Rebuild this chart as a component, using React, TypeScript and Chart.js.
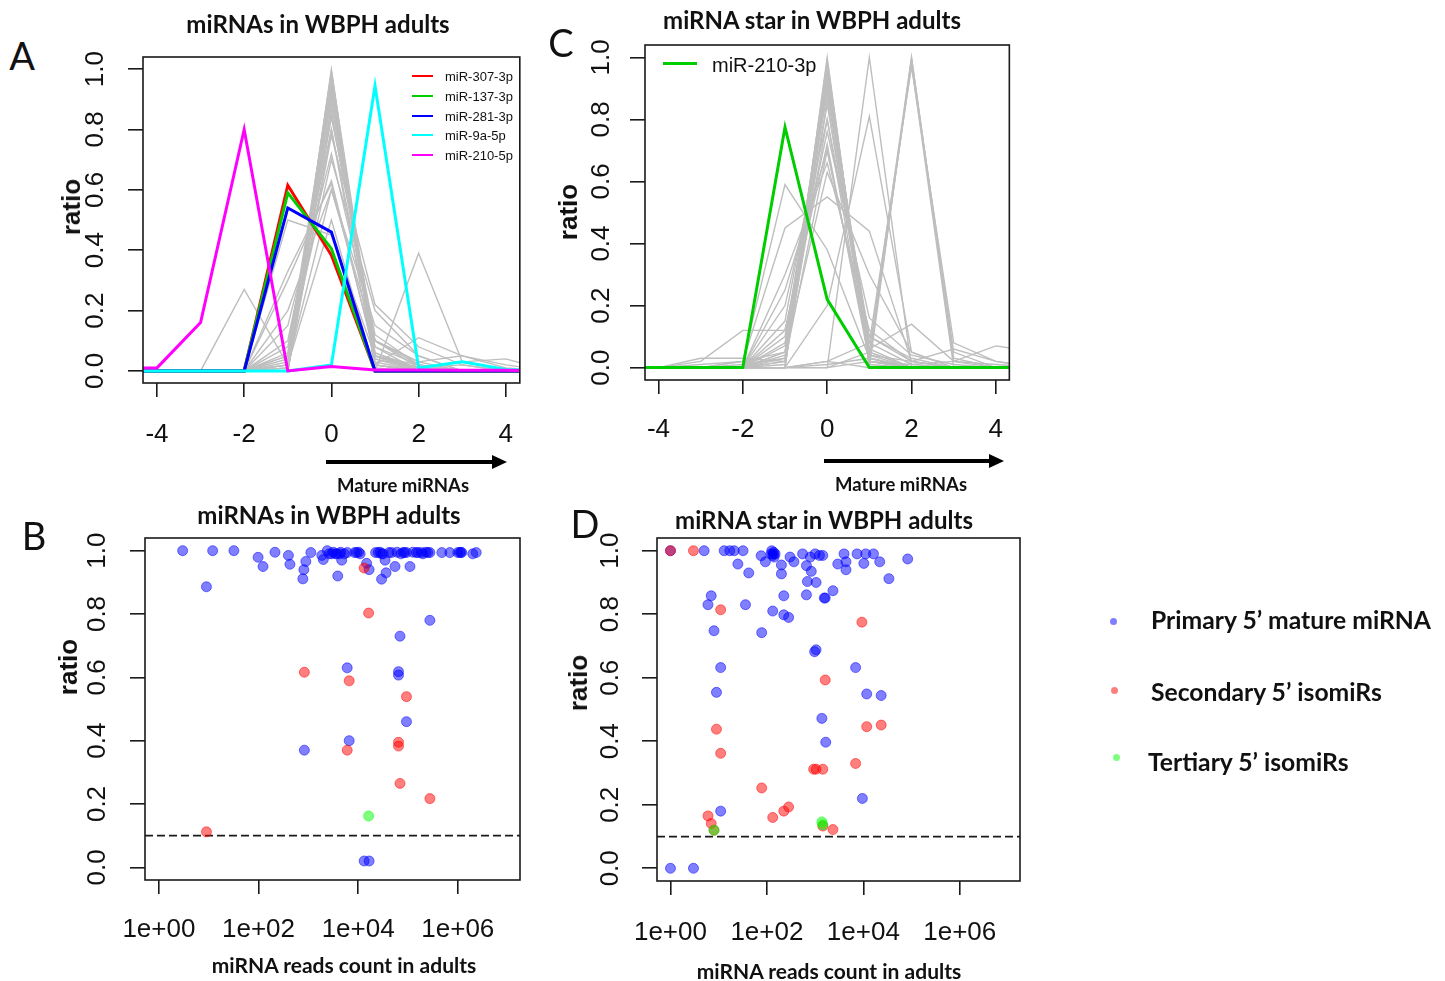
import React, { useEffect, useRef } from 'react';
import Chart from 'chart.js/auto';

// ---------------- data ----------------
const positionX = [-5, -4, -3, -2, -1, 0, 1, 2, 3, 4, 5];
const positionTicks = [-4, -2, 0, 2, 4];
const positionTickLabels = ['-4', '-2', '0', '2', '4'];
const ratioTicks = [0, 0.2, 0.4, 0.6, 0.8, 1.0];
const ratioTickLabels = ['0.0', '0.2', '0.4', '0.6', '0.8', '1.0'];
const readsTicks = [1, 100, 10000, 1000000];
const readsTickLabels = ['1e+00', '1e+02', '1e+04', '1e+06'];
const cutoffRatio = 0.1;

// Panel A highlighted miRNAs (ratio at positions -5..5)
const aNames = ['miR-307-3p', 'miR-137-3p', 'miR-281-3p', 'miR-9a-5p', 'miR-210-5p'];
const aColors = ['#FF0000', '#00CD00', '#0000FF', '#00FFFF', '#FF00FF'];
const miR307_3p = [0, 0, 0, 0, 0.615, 0.383, 0, 0, 0, 0, 0];
const miR137_3p = [0, 0, 0, 0, 0.59, 0.405, 0, 0, 0, 0, 0];
const miR281_3p = [0, 0, 0, 0, 0.54, 0.46, 0, 0, 0, 0, 0];
const miR9a_5p = [0, 0, 0, 0, 0, 0.02, 0.945, 0.01, 0.03, 0.005, 0];
const miR210_5p = [0.01, 0.01, 0.16, 0.8, 0, 0.015, 0.003, 0.003, 0.002, 0.002, 0];

// Panel A other miRNAs (grey)
const aOthers = [
  [0, 0, 0, 0, 0, 1.0, 0, 0, 0, 0, 0],
  [0, 0, 0, 0, 0.01, 0.99, 0, 0, 0, 0, 0],
  [0, 0, 0, 0, 0, 0.98, 0.02, 0, 0, 0, 0],
  [0, 0, 0, 0, 0.02, 0.97, 0.01, 0, 0, 0, 0],
  [0, 0, 0, 0, 0, 0.96, 0.04, 0, 0, 0, 0],
  [0, 0, 0, 0, 0.03, 0.95, 0.02, 0, 0, 0, 0],
  [0, 0, 0, 0, 0, 0.94, 0.05, 0.01, 0, 0, 0],
  [0, 0, 0, 0, 0.05, 0.93, 0.02, 0, 0, 0, 0],
  [0, 0, 0, 0, 0, 0.92, 0.08, 0, 0, 0, 0],
  [0, 0, 0, 0, 0.04, 0.9, 0.05, 0.01, 0, 0, 0],
  [0, 0, 0, 0, 0, 0.88, 0.1, 0.02, 0, 0, 0],
  [0, 0, 0, 0, 0.08, 0.86, 0.06, 0, 0, 0, 0],
  [0, 0, 0, 0, 0.02, 0.84, 0.12, 0.02, 0, 0, 0],
  [0, 0, 0, 0, 0.1, 0.8, 0.08, 0.02, 0, 0, 0],
  [0, 0, 0, 0, 0, 0.78, 0.22, 0.08, 0.02, 0, 0],
  [0, 0, 0, 0, 0.15, 0.72, 0.1, 0.03, 0, 0, 0],
  [0, 0, 0, 0, 0.05, 0.7, 0.2, 0.05, 0, 0, 0],
  [0, 0, 0, 0, 0.3, 0.63, 0.05, 0.02, 0, 0, 0],
  [0, 0, 0, 0, 0.33, 0.62, 0.05, 0, 0, 0, 0],
  [0, 0, 0, 0, 0.2, 0.6, 0.15, 0.05, 0, 0, 0],
  [0, 0, 0, 0, 0.5, 0.45, 0.05, 0, 0, 0, 0],
  [0, 0, 0, 0.27, 0.02, 0.6, 0.1, 0.01, 0, 0, 0],
  [0, 0, 0, 0, 0.02, 0.5, 0, 0.39, 0.03, 0.04, 0],
  [0, 0, 0, 0, 0, 0.8, 0.02, 0.11, 0.05, 0.02, 0],
  [0, 0, 0, 0, 0, 0.85, 0.1, 0.03, 0.05, 0.01, 0],
  [0, 0, 0, 0, 0.01, 0.93, 0.04, 0.01, 0.02, 0, 0],
  [0, 0, 0, 0, 0.06, 0.97, 0.03, 0, 0, 0, 0],
  [0, 0, 0, 0, 0, 0.99, 0.06, 0.01, 0, 0, 0],
];

// Panel C highlighted miRNA star
const cName = 'miR-210-3p';
const cColor = '#00CD00';
const miR210_3p = [0, 0, 0, 0, 0.775, 0.22, 0, 0, 0, 0, 0];

// Panel C other miRNA stars (grey)
const cOthers = [
  [0, 0, 0, 0, 0, 1.0, 0, 0, 0, 0, 0],
  [0, 0, 0, 0, 0.02, 0.99, 0.01, 0, 0, 0, 0],
  [0, 0, 0, 0, 0, 0.98, 0.03, 0, 0, 0, 0],
  [0, 0, 0, 0, 0.05, 0.97, 0, 0, 0, 0, 0],
  [0, 0, 0, 0.01, 0.03, 0.96, 0.02, 0, 0, 0, 0],
  [0, 0, 0, 0, 0.08, 0.94, 0.05, 0, 0, 0, 0],
  [0, 0, 0, 0, 0, 0.93, 0.08, 0.01, 0, 0, 0],
  [0, 0, 0, 0, 0.1, 0.9, 0.02, 0, 0, 0, 0],
  [0, 0, 0, 0, 0.15, 0.88, 0.1, 0.02, 0, 0, 0],
  [0, 0, 0, 0, 0.04, 0.86, 0.04, 0, 0, 0, 0],
  [0, 0, 0, 0, 0.2, 0.8, 0.1, 0.03, 0, 0, 0],
  [0, 0, 0, 0, 0.12, 0.76, 0.16, 0.04, 0.01, 0, 0],
  [0, 0, 0, 0, 0.25, 0.7, 0.05, 0, 0, 0, 0],
  [0, 0, 0, 0, 0.3, 0.66, 0.12, 0.02, 0, 0, 0],
  [0, 0, 0, 0, 0.05, 0.63, 0.3, 0.05, 0, 0, 0],
  [0, 0, 0, 0.02, 0.45, 0.55, 0.44, 0.02, 0, 0, 0],
  [0, 0, 0, 0.02, 0.59, 0.38, 0.03, 0, 0, 0, 0],
  [0, 0, 0.02, 0.12, 0.12, 0.72, 0.02, 0, 0, 0, 0],
  [0, 0, 0.03, 0.03, 0.02, 0.9, 0.03, 0, 0, 0, 0],
  [0, 0, 0, 0, 0, 0, 1.0, 0, 0, 0, 0],
  [0, 0, 0, 0, 0, 0.2, 0.81, 0.05, 0, 0, 0],
  [0, 0, 0, 0, 0, 0.02, 0, 1.0, 0.02, 0, 0],
  [0, 0, 0, 0, 0, 0, 0.02, 0.99, 0.05, 0, 0],
  [0, 0, 0, 0, 0, 0.01, 0.03, 0.98, 0, 0, 0],
  [0, 0, 0, 0, 0, 0, 0.05, 1.0, 0.03, 0, 0],
  [0, 0, 0, 0, 0, 0.02, 0.08, 0.97, 0.08, 0.02, 0],
  [0, 0, 0, 0, 0.02, 0.7, 0.06, 0.14, 0.02, 0.01, 0],
  [0, 0, 0, 0, 0.01, 0.85, 0.04, 0.02, 0.06, 0.02, 0],
  [0, 0, 0, 0, 0.03, 0.8, 0.02, 0.01, 0.02, 0.07, 0.05],
  [0, 0, 0.01, 0.02, 0.05, 0.92, 0.02, 0, 0, 0, 0],
  [0, 0, 0, 0, 0.07, 0.96, 0.06, 0, 0, 0, 0],
];

// Panel B: [reads count, ratio]
const bPrimary = [
  [3, 1.0], [12, 1.0], [32, 1.0], [9, 0.886], [98, 0.979], [123, 0.95], [214, 0.995], [398, 0.985],
  [427, 0.957], [776, 0.911], [813, 0.94], [891, 0.966], [1122, 0.994], [832, 0.37], [1862, 0.985],
  [1995, 0.972], [2399, 1.0], [2951, 0.99], [3715, 0.99], [4266, 0.99], [4677, 0.97], [3890, 0.92],
  [6026, 0.994], [6026, 0.63], [6607, 0.4], [9333, 0.994], [10965, 0.99], [14791, 0.96], [16596, 0.94],
  [13183, 0.02], [16596, 0.02], [25119, 0.994], [29512, 0.99], [34674, 0.97], [36308, 0.93], [29512, 0.91],
  [46774, 0.994], [54954, 0.95], [69183, 0.73], [64565, 0.618], [64565, 0.607], [79433, 0.994],
  [93325, 0.994], [93325, 0.46], [109648, 0.95], [147911, 0.994], [186209, 0.994], [275423, 0.994],
  [275423, 0.78], [478630, 0.994], [691831, 0.994], [1096478, 0.994], [1202264, 0.994], [1995262, 0.99],
  [2344229, 0.994], [2630, 0.99], [3162, 0.995], [3548, 0.99], [4467, 0.995], [5248, 0.99], [8511, 0.994],
  [10233, 0.995], [22387, 0.994], [27542, 0.995], [31623, 0.99], [41687, 0.994], [60256, 0.995],
  [72444, 0.99], [85114, 0.994], [125893, 0.995], [158489, 0.994], [199526, 0.99], [229087, 0.995],
  [251189, 0.994], [1000000, 0.994], [1148154, 0.995],
];
const bSecondary = [
  [9, 0.112], [832, 0.616], [6607, 0.589], [6026, 0.37], [13183, 0.945], [16218, 0.803],
  [64565, 0.395], [64565, 0.383], [93325, 0.539], [69183, 0.265], [275423, 0.217],
];
const bTertiary = [[16218, 0.162]];

// Panel D: [reads count, ratio]
const dPrimary = [
  [1, 0.0], [3, 0.0], [1, 1.0], [5, 1.0], [13, 1.0], [17, 1.0], [21, 1.0], [32, 1.0], [7, 0.858], [6, 0.83],
  [8, 0.748], [11, 0.632], [9, 0.554], [11, 0.18], [25, 0.958], [42, 0.93], [36, 0.83], [78, 0.742],
  [76, 0.984], [93, 0.965], [123, 0.99], [126, 1.0], [132, 0.985], [138, 0.995], [141, 0.98], [135, 0.99],
  [148, 0.99], [200, 0.955], [200, 0.927], [224, 0.858], [132, 0.81], [224, 0.798], [282, 0.79],
  [302, 0.98], [363, 0.965], [550, 0.99], [661, 0.953], [661, 0.861], [692, 0.903], [794, 0.98],
  [832, 0.935], [1047, 0.9], [1000, 0.99], [1230, 0.985], [1445, 0.985], [977, 0.682], [1047, 0.688],
  [1622, 0.851], [1549, 0.851], [2344, 0.874], [1380, 0.472], [1660, 0.397], [2951, 0.958], [3981, 0.99],
  [4365, 0.965], [4365, 0.94], [7413, 0.99], [10233, 0.96], [11220, 0.99], [16218, 0.99], [21878, 0.965],
  [33884, 0.912], [83176, 0.974], [6918, 0.632], [11749, 0.549], [23442, 0.544], [9550, 0.22],
];
const dSecondary = [
  [1, 1.0], [3, 1.0], [11, 0.814], [9, 0.438], [11, 0.362], [6, 0.165], [7, 0.141], [8, 0.12],
  [78, 0.253], [132, 0.16], [224, 0.18], [282, 0.193], [1622, 0.593], [933, 0.312], [1047, 0.312],
  [1445, 0.312], [1445, 0.133], [2344, 0.122], [9333, 0.775], [6918, 0.33], [11749, 0.446], [23442, 0.451],
];
const dTertiary = [[8, 0.12], [1380, 0.146], [1445, 0.137]];

const legendNames = ['Primary 5\u2019 mature miRNA', 'Secondary 5\u2019 isomiRs', 'Tertiary 5\u2019 isomiRs'];
const legendColors = ['rgba(0,0,255,0.5)', 'rgba(255,0,0,0.5)', 'rgba(0,255,0,0.5)'];

// ---------------- layout / style ----------------
const INK = '#111111';
const TICK_FONT = '"Liberation Sans", Arial, sans-serif';
const LABEL_FONT = 'Lato, "Open Sans", sans-serif';
const M = { l: 100, t: 45, r: 14, b: 80 };
const BOX_A = { l: 143, t: 57, r: 522, b: 383 };
const BOX_C = { l: 645, t: 45, r: 1010, b: 380 };
const BOX_B = { l: 145, t: 538, r: 520, b: 880 };
const BOX_D = { l: 657, t: 538, r: 1020, b: 881 };
const READS_MIN = 0.526;
const READS_MAX = 17740000;

const framePlugin = {
  id: 'frame',
  afterDraw(chart: any) {
    const { ctx, chartArea } = chart;
    ctx.save();
    ctx.strokeStyle = '#1a1a1a';
    ctx.lineWidth = 1.6;
    ctx.strokeRect(chartArea.left, chartArea.top, chartArea.right - chartArea.left, chartArea.bottom - chartArea.top);
    ctx.restore();
  },
};

function gridOpts(len: number) {
  return {
    display: true,
    drawOnChartArea: false,
    drawTicks: true,
    tickLength: len,
    tickWidth: 1.6,
    tickColor: '#1a1a1a',
    color: '#1a1a1a',
    lineWidth: 1.6,
  };
}

function ratioAxis(pad: number) {
  return {
    type: 'linear',
    min: -0.04,
    max: 1.04,
    bounds: 'data',
    afterBuildTicks: (s: any) => {
      s.ticks = ratioTicks.map((v) => ({ value: v }));
    },
    afterFit: (s: any) => {
      s.width = M.l;
    },
    border: { display: false },
    grid: gridOpts(15),
    ticks: {
      autoSkip: false,
      minRotation: 90,
      maxRotation: 90,
      crossAlign: 'center',
      padding: pad,
      color: INK,
      font: { family: TICK_FONT, size: 26 },
      callback: (_v: any, i: number) => ratioTickLabels[i],
    },
  };
}

function positionAxis(pad: number) {
  return {
    type: 'linear',
    min: -4.32,
    max: 4.32,
    bounds: 'data',
    afterBuildTicks: (s: any) => {
      s.ticks = positionTicks.map((v) => ({ value: v }));
    },
    afterFit: (s: any) => {
      s.height = M.b;
    },
    border: { display: false },
    grid: gridOpts(14),
    ticks: {
      autoSkip: false,
      minRotation: 0,
      maxRotation: 0,
      padding: pad,
      color: INK,
      font: { family: TICK_FONT, size: 26 },
      callback: (_v: any, i: number) => positionTickLabels[i],
    },
  };
}

function readsAxis(pad: number) {
  return {
    type: 'logarithmic',
    min: READS_MIN,
    max: READS_MAX,
    bounds: 'data',
    afterBuildTicks: (s: any) => {
      s.ticks = readsTicks.map((v) => ({ value: v }));
    },
    afterFit: (s: any) => {
      s.height = M.b;
    },
    border: { display: false },
    grid: gridOpts(14),
    ticks: {
      autoSkip: false,
      minRotation: 0,
      maxRotation: 0,
      padding: pad,
      color: INK,
      font: { family: TICK_FONT, size: 26 },
      callback: (_v: any, i: number) => readsTickLabels[i],
    },
  };
}

function lineSet(values: number[], color: string, width: number, order: number) {
  return {
    type: 'line',
    data: positionX.map((x, i) => ({ x, y: values[i] })),
    borderColor: color,
    backgroundColor: color,
    borderWidth: width,
    pointRadius: 0,
    fill: false,
    tension: 0,
    order,
  };
}

function pointSet(pairs: number[][], color: string, order: number) {
  return {
    type: 'scatter',
    data: pairs.map((p) => ({ x: p[0], y: p[1] })),
    backgroundColor: color,
    borderColor: color,
    borderWidth: 1,
    pointRadius: 5,
    showLine: false,
    order,
  };
}

function baseOptions() {
  return {
    animation: false,
    responsive: false,
    maintainAspectRatio: false,
    events: [],
    layout: { autoPadding: false, padding: { left: 0, top: M.t, right: M.r, bottom: 0 } },
    plugins: { legend: { display: false }, tooltip: { enabled: false }, title: { display: false } },
  };
}

function configA() {
  const series = [miR307_3p, miR137_3p, miR281_3p, miR9a_5p, miR210_5p];
  const datasets: any[] = [];
  aOthers.forEach((v) => datasets.push(lineSet(v, '#BEBEBE', 1.4, 20)));
  series.forEach((v, i) => datasets.push(lineSet(v, aColors[i], 3, 10 - i)));
  return {
    type: 'line',
    data: { datasets },
    options: { ...baseOptions(), scales: { x: positionAxis(22.4), y: ratioAxis(14.5) } },
    plugins: [framePlugin],
  };
}

function configC() {
  const datasets: any[] = [];
  cOthers.forEach((v) => datasets.push(lineSet(v, '#BEBEBE', 1.4, 20)));
  datasets.push(lineSet(miR210_3p, cColor, 3, 1));
  return {
    type: 'line',
    data: { datasets },
    options: { ...baseOptions(), scales: { x: positionAxis(20.4), y: ratioAxis(10) } },
    plugins: [framePlugin],
  };
}

function configScatter(primary: number[][], secondary: number[][], tertiary: number[][], xPad: number, yPad: number) {
  const datasets: any[] = [
    {
      type: 'line',
      data: [
        { x: READS_MIN, y: cutoffRatio },
        { x: READS_MAX, y: cutoffRatio },
      ],
      borderColor: '#1a1a1a',
      borderWidth: 1.8,
      borderDash: [8, 4],
      pointRadius: 0,
      fill: false,
      order: 10,
    },
    pointSet(primary, legendColors[0], 3),
    pointSet(secondary, legendColors[1], 2),
    pointSet(tertiary, legendColors[2], 1),
  ];
  return {
    type: 'scatter',
    data: { datasets },
    options: { ...baseOptions(), scales: { x: readsAxis(xPad), y: ratioAxis(yPad) } },
    plugins: [framePlugin],
  };
}

function ChartPanel({ box, build }: { box: any; build: () => any }) {
  const ref = useRef<HTMLCanvasElement | null>(null);
  const w = box.r - box.l + M.l + M.r;
  const h = box.b - box.t + M.t + M.b;
  useEffect(() => {
    const chart = new Chart(ref.current as HTMLCanvasElement, build());
    return () => chart.destroy();
  }, []);
  return (
    <canvas
      ref={ref}
      width={w}
      height={h}
      style={{ position: 'absolute', left: box.l - M.l, top: box.t - M.t, width: w, height: h }}
    />
  );
}

function Label(props: any) {
  const { x, y, size, weight = 700, family = LABEL_FONT, rotate = 0, align = 'center', children } = props;
  const tx = align === 'center' ? '-50%' : '0';
  return (
    <div
      style={{
        position: 'absolute',
        left: x,
        top: y,
        transform: `translate(${tx}, -50%) rotate(${rotate}deg)`,
        fontFamily: family,
        fontSize: size,
        fontWeight: weight,
        whiteSpace: 'nowrap',
        lineHeight: 1,
        color: INK,
      }}
    >
      {children}
    </div>
  );
}

export default function App() {
  const aRows = [76, 96, 116, 135, 155];
  const legendY = [621, 690, 757];
  const legendTextX = [1151, 1151, 1148];
  const legendTextY = [620, 692, 762];
  const legendDotX = [1113, 1114, 1116];
  return (
    <div
      style={{
        position: 'absolute',
        left: 0,
        top: 0,
        width: 1445,
        height: 981,
        background: '#fff',
        overflow: 'hidden',
      }}
    >
      <ChartPanel box={BOX_A} build={configA} />
      <ChartPanel box={BOX_C} build={configC} />
      <ChartPanel box={BOX_B} build={() => configScatter(bPrimary, bSecondary, bTertiary, 20.4, 14)} />
      <ChartPanel box={BOX_D} build={() => configScatter(dPrimary, dSecondary, dTertiary, 22.4, 13)} />

      {/* panel letters */}
      <Label x={22} y={55} size={38} weight={400}>A</Label>
      <Label x={34} y={535} size={38} weight={400}>B</Label>
      <Label x={561} y={42} size={38} weight={400}>C</Label>
      <Label x={585} y={523} size={38} weight={400}>D</Label>

      {/* titles */}
      <Label x={318} y={24} size={24}>miRNAs in WBPH adults</Label>
      <Label x={812} y={20} size={24}>miRNA star in WBPH adults</Label>
      <Label x={329} y={515} size={24}>miRNAs in WBPH adults</Label>
      <Label x={824} y={520} size={24}>miRNA star in WBPH adults</Label>

      {/* y axis titles */}
      <Label x={71} y={207} size={26} family={TICK_FONT} rotate={-90}>ratio</Label>
      <Label x={568} y={212} size={26} family={TICK_FONT} rotate={-90}>ratio</Label>
      <Label x={68} y={667} size={26} family={TICK_FONT} rotate={-90}>ratio</Label>
      <Label x={578} y={683} size={26} family={TICK_FONT} rotate={-90}>ratio</Label>

      {/* x axis titles */}
      <Label x={403} y={485} size={18.5}>Mature miRNAs</Label>
      <Label x={901} y={484} size={18.5}>Mature miRNAs</Label>
      <Label x={344} y={964} size={21}>miRNA reads count in adults</Label>
      <Label x={829} y={970} size={21}>miRNA reads count in adults</Label>

      <svg width={1445} height={981} style={{ position: 'absolute', left: 0, top: 0, pointerEvents: 'none' }}>
        <line x1={326} y1={462} x2={494} y2={462} stroke="#000" strokeWidth={4} />
        <polygon points="492,455 507,462 492,469" fill="#000" />
        <line x1={824} y1={461} x2={991} y2={461} stroke="#000" strokeWidth={4} />
        <polygon points="989,454 1004,461 989,468" fill="#000" />
      </svg>

      {/* legend panel A */}
      {aNames.map((n, i) => (
        <React.Fragment key={n}>
          <div style={{ position: 'absolute', left: 412, top: aRows[i] - 1.25, width: 21, height: 2.5, background: aColors[i] }} />
          <Label x={445} y={aRows[i]} size={13} weight={400} family={TICK_FONT} align="left">{n}</Label>
        </React.Fragment>
      ))}

      {/* legend panel C */}
      <div style={{ position: 'absolute', left: 663, top: 62, width: 34, height: 3, background: cColor }} />
      <Label x={712} y={65} size={20} weight={400} family={TICK_FONT} align="left">{cName}</Label>

      {/* legend right */}
      {legendNames.map((n, i) => (
        <React.Fragment key={n}>
          <div
            style={{
              position: 'absolute',
              left: legendDotX[i] - 3.5,
              top: legendY[i] - 3.5,
              width: 7,
              height: 7,
              borderRadius: '50%',
              background: legendColors[i],
            }}
          />
          <Label x={legendTextX[i]} y={legendTextY[i]} size={24.7} align="left">{n}</Label>
        </React.Fragment>
      ))}
    </div>
  );
}
